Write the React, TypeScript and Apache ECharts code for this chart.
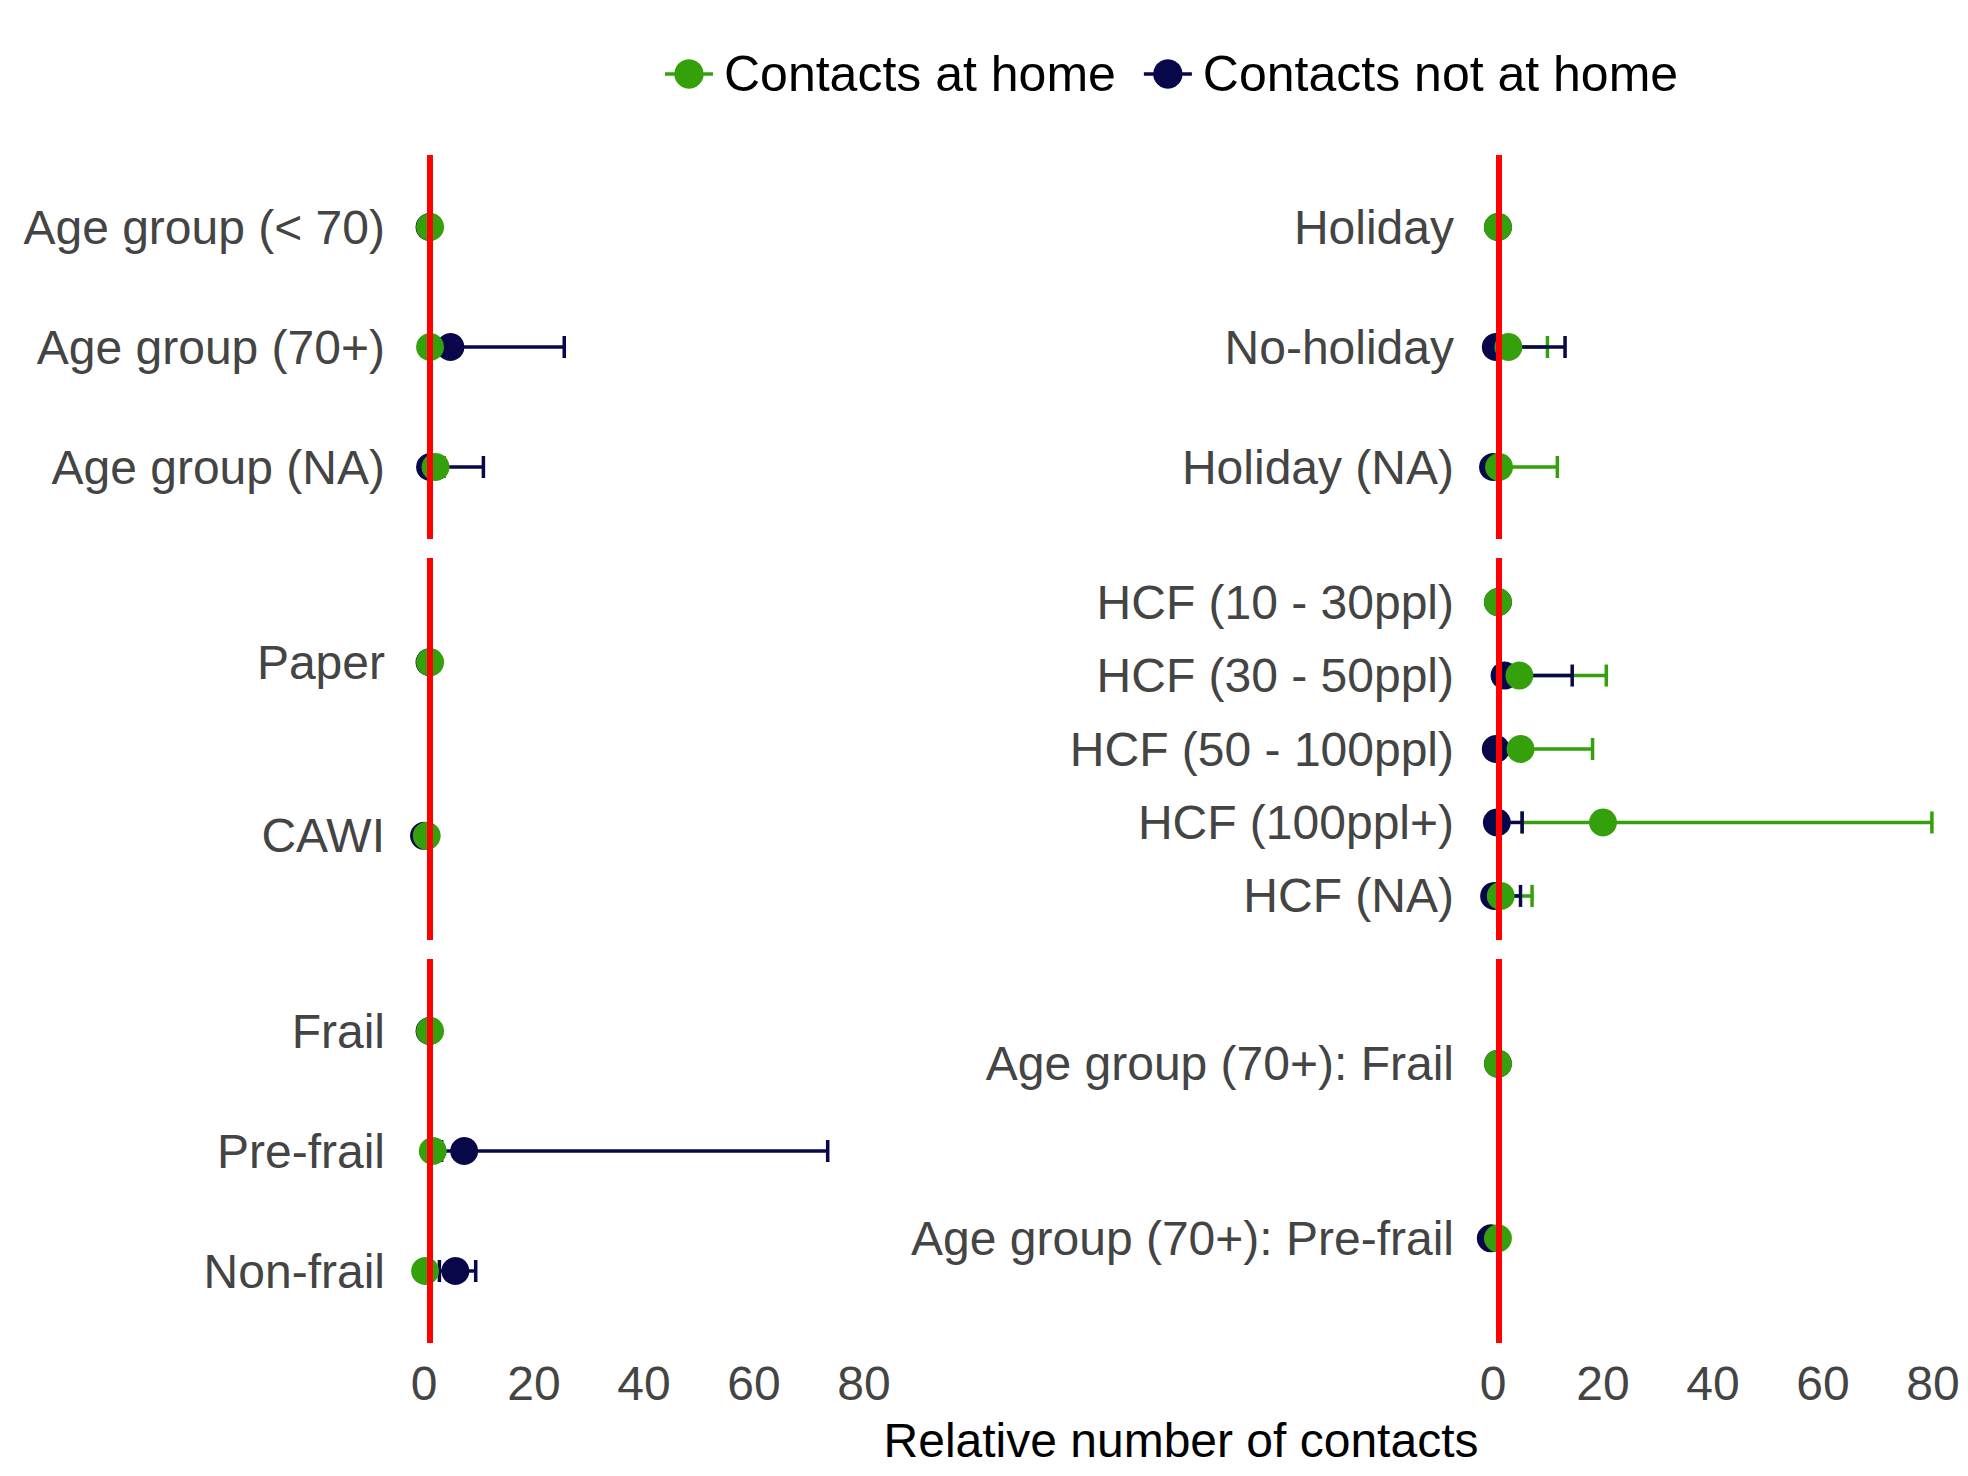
import { useEffect, useRef } from "react"
import * as echarts from "echarts"

// facet rows (top to bottom within each facet)
const ageRows = ["Age group (< 70)", "Age group (70+)", "Age group (NA)"]
const modeRows = ["Paper", "CAWI"]
const frailRows = ["Frail", "Pre-frail", "Non-frail"]
const holidayRows = ["Holiday", "No-holiday", "Holiday (NA)"]
const hcfRows = ["HCF (10 - 30ppl)", "HCF (30 - 50ppl)", "HCF (50 - 100ppl)", "HCF (100ppl+)", "HCF (NA)"]
const ageFrailRows = ["Age group (70+): Frail", "Age group (70+): Pre-frail"]

// [estimate, lower, upper]
const ageHome = [[1.1, 1.1, 1.1], [1.1, 1.1, 1.1], [2.1, 1.6, 3.7]]
const ageAway = [[1.0, 1.0, 1.0], [4.8, 2.1, 25.5], [1.1, 1.1, 10.8]]
const modeHome = [[1.1, 1.1, 1.1], [0.5, 0.5, 0.5]]
const modeAway = [[1.0, 1.0, 1.0], [0.0, 0.0, 0.0]]
const frailHome = [[1.1, 1.1, 1.1], [1.6, 1.6, 1.6], [0.2, 0.2, 0.2]]
const frailAway = [[1.0, 1.0, 1.0], [7.3, 3.2, 73.4], [5.7, 2.8, 9.4]]
const holidayHome = [[0.9, 0.9, 0.9], [2.8, 1.8, 9.9], [1.1, 1.1, 11.7]]
const holidayAway = [[0.9, 0.9, 0.9], [0.5, 0.5, 13.1], [0.0, 0.0, 0.0]]
const hcfHome = [[0.9, 0.9, 0.9], [4.8, 1.8, 20.6], [5.0, 1.5, 18.1], [20.0, 5.3, 79.8], [1.4, 1.4, 7.1]]
const hcfAway = [[0.9, 0.9, 0.9], [2.1, 1.6, 14.4], [0.5, 0.5, 0.5], [0.7, 0.7, 5.3], [0.2, 0.2, 5.0]]
const ageFrailHome = [[0.9, 0.9, 0.9], [0.9, 0.9, 0.9]]
const ageFrailAway = [[0.9, 0.9, 0.9], [-0.4, -0.4, -0.4]]

const xTicks = [0, 20, 40, 60, 80]
const refValue = 1

const GREEN = "#34a10c"
const NAVY = "#07074a"
const FONT = "Liberation Sans"
const FS = 48

const panels = [
  { rows: ageRows, home: ageHome, away: ageAway, left: 413, right: 875, top: 155, bottom: 539, showX: false },
  { rows: modeRows, home: modeHome, away: modeAway, left: 413, right: 875, top: 558, bottom: 940, showX: false },
  { rows: frailRows, home: frailHome, away: frailAway, left: 413, right: 875, top: 959, bottom: 1343, showX: true },
  { rows: holidayRows, home: holidayHome, away: holidayAway, left: 1482, right: 1944, top: 155, bottom: 539, showX: false },
  { rows: hcfRows, home: hcfHome, away: hcfAway, left: 1482, right: 1944, top: 558, bottom: 940, showX: false },
  { rows: ageFrailRows, home: ageFrailHome, away: ageFrailAway, left: 1482, right: 1944, top: 959, bottom: 1343, showX: true },
]

const W = 1968
const H = 1476

function errBars(color: string, idx: number, data: number[][], name: string) {
  return {
    type: "custom",
    name,
    xAxisIndex: idx,
    yAxisIndex: idx,
    z: 2,
    data: data.map((d, i) => [d[1], d[2], i + 1]),
    renderItem: (_p: any, api: any) => {
      const lo = api.coord([api.value(0), api.value(2)])
      const hi = api.coord([api.value(1), api.value(2)])
      if (hi[0] - lo[0] < 0.5) return null
      const cap = 11
      const style = { stroke: color, lineWidth: 3.5 }
      return {
        type: "group",
        children: [
          { type: "line", shape: { x1: lo[0], y1: lo[1], x2: hi[0], y2: hi[1] }, style },
          { type: "line", shape: { x1: lo[0], y1: lo[1] - cap, x2: lo[0], y2: lo[1] + cap }, style },
          { type: "line", shape: { x1: hi[0], y1: hi[1] - cap, x2: hi[0], y2: hi[1] + cap }, style },
        ],
      }
    },
  }
}

const legendIcon = "path://M0,12 L10,12 L10,10 L34,10 L34,12 L44,12 L44,15 L34,15 L34,17 L10,17 L10,15 L0,15 Z M22,0 A13.5,13.5 0 1 1 21.99,0 Z"

export default function App() {
  const chartRef = useRef<HTMLDivElement>(null)

  useEffect(() => {
    document.body.style.margin = "0"
    if (!chartRef.current) return
    const chart = echarts.init(chartRef.current, null, { renderer: "svg" })

    const grid: any[] = []
    const xAxis: any[] = []
    const yAxis: any[] = []
    const series: any[] = []

    panels.forEach((p, idx) => {
      grid.push({ left: p.left, width: p.right - p.left, top: p.top, height: p.bottom - p.top, containLabel: false })
      xAxis.push({
        gridIndex: idx,
        type: "value",
        min: -2,
        max: 82,
        axisLine: { show: false },
        axisTick: { show: false },
        splitLine: { show: false },
        axisLabel: {
          show: p.showX,
          customValues: xTicks,
          fontSize: FS,
          fontFamily: FONT,
          color: "#444444",
          margin: 16,
        },
      })
      yAxis.push({
        gridIndex: idx,
        type: "value",
        inverse: true,
        min: 0.4,
        max: p.rows.length + 0.6,
        axisLine: { show: false },
        axisTick: { show: false },
        splitLine: { show: false },
        axisLabel: {
          customValues: p.rows.map((_, i) => i + 1),
          formatter: (v: number) => p.rows[Math.round(v) - 1] ?? "",
          fontSize: FS,
          fontFamily: FONT,
          color: "#444444",
          margin: 28,
        },
      })
      series.push(errBars(GREEN, idx, p.home, "Contacts at home"))
      series.push(errBars(NAVY, idx, p.away, "Contacts not at home"))
      series.push({
        type: "scatter",
        name: "Contacts not at home",
        xAxisIndex: idx,
        yAxisIndex: idx,
        symbolSize: 28,
        z: 3,
        itemStyle: { color: NAVY, opacity: 1 },
        data: p.away.map((d, i) => [d[0], i + 1]),
      })
      series.push({
        type: "scatter",
        name: "Contacts at home",
        xAxisIndex: idx,
        yAxisIndex: idx,
        symbolSize: 28,
        z: 4,
        itemStyle: { color: GREEN, opacity: 1 },
        data: p.home.map((d, i) => [d[0], i + 1]),
        markLine: {
          silent: true,
          symbol: "none",
          label: { show: false },
          lineStyle: { color: "#ff0000", width: 6, type: "solid" },
          data: [{ xAxis: refValue }],
          z: 10,
        },
      })
    })

    chart.setOption({
      animation: false,
      backgroundColor: "#ffffff",
      textStyle: { fontFamily: FONT },
      grid,
      xAxis,
      yAxis,
      series,
      legend: {
        top: 44,
        left: 660,
        itemWidth: 48,
        itemHeight: 30,
        itemGap: 28,
        textStyle: { fontSize: 50, color: "#000000", fontFamily: FONT, padding: [0, 0, 0, 6] },
        data: [
          { name: "Contacts at home", icon: legendIcon, itemStyle: { color: GREEN } },
          { name: "Contacts not at home", icon: legendIcon, itemStyle: { color: NAVY } },
        ],
      },
      graphic: [
        {
          type: "text",
          x: 1181,
          y: 1440,
          style: {
            text: "Relative number of contacts",
            fontSize: FS,
            fill: "#000000",
            fontFamily: FONT,
            align: "center",
            verticalAlign: "middle",
          },
        },
      ],
    })

    return () => {
      chart.dispose()
    }
  }, [])

  return <div ref={chartRef} style={{ width: W, height: H }} />
}
